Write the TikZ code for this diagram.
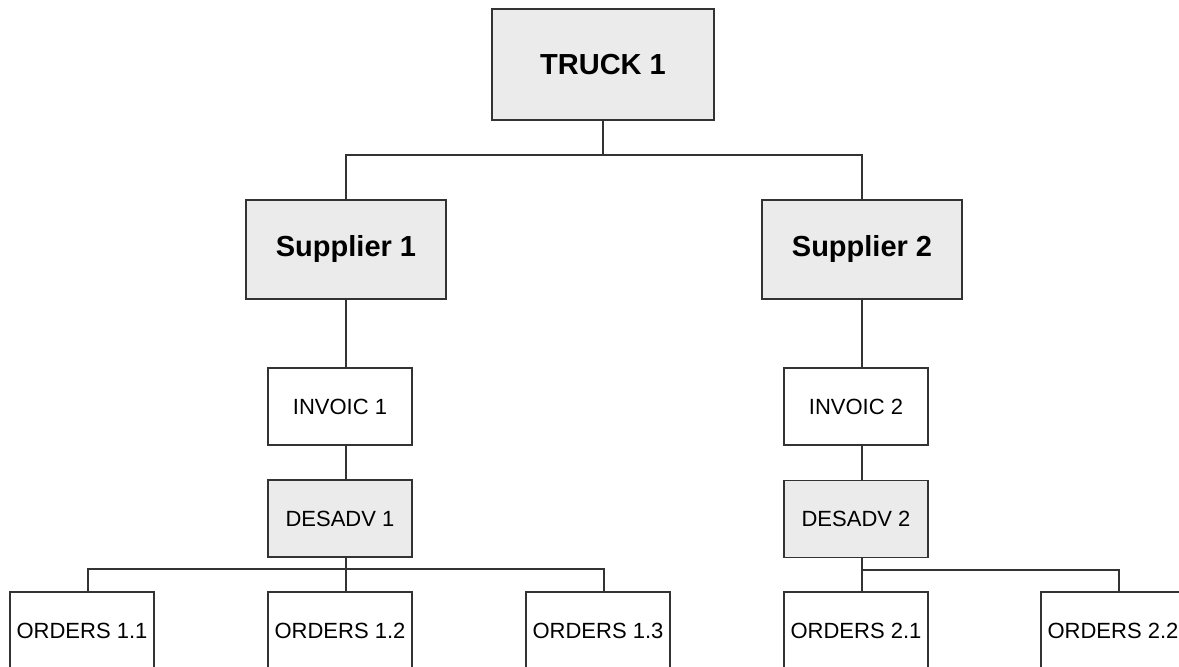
\documentclass[tikz,border=0pt]{standalone}
\usepackage{fontspec}
\setmainfont{Liberation Sans}
\begin{document}
\begin{tikzpicture}[x=0.75pt,y=-0.75pt,
  box/.style={draw=black!80, line width=1.1pt, fill=white, inner sep=0pt, align=center},
  shaded/.style={box, fill=black!8},
  big/.style={font=\fontsize{21.75}{26}\selectfont\bfseries},
  small/.style={font=\fontsize{16.5}{20}\selectfont},
  msg/.style={small, minimum width=108pt, minimum height=57.75pt},
  order/.style={box, small, minimum width=108pt, minimum height=57.75pt},
  link/.style={draw=black!80, line width=1.1pt}]
\useasboundingbox[fill=white] (0,0) rectangle (1179,667);
% top level
\node[shaded,big,minimum width=166.5pt,minimum height=83.25pt] (truck) at (603,64.5) {TRUCK 1};
\node[shaded,big,minimum width=150pt,minimum height=74.25pt] (sup1) at (346,249.5) {Supplier 1};
\node[shaded,big,minimum width=150pt,minimum height=74.25pt] (sup2) at (862,249.5) {Supplier 2};
% messages
\node[box,msg] (inv1) at (340,406.5) {INVOIC 1};
\node[shaded,msg] (des1) at (340,518.5) {DESADV 1};
\node[box,msg] (inv2) at (856,406.5) {INVOIC 2};
\node[shaded,msg] (des2) at (856,519) {DESADV 2};
% orders
\node[order] (o11) at (82,630.5) {ORDERS 1.1};
\node[order] (o12) at (340,630.5) {ORDERS 1.2};
\node[order] (o13) at (598,630.5) {ORDERS 1.3};
\node[order] (o21) at (856,630.5) {ORDERS 2.1};
\node[order] (o22) at (1113,630.5) {ORDERS 2.2};
% buses
\coordinate (tbus) at (603,155);
\coordinate (lbus) at (346,569);
\coordinate (rbus) at (862,570);
% connectors
\draw[link] (truck.south) -- (tbus);
\draw[link] (sup1.north) |- (tbus) -| (sup2.north);
\draw[link] (sup1.south) -- (sup1.south |- inv1.north);
\draw[link] (inv1.south -| lbus) -- (des1.north -| lbus);
\draw[link] (des1.south -| lbus) -- (lbus);
\draw[link] ([xshift=4.5pt]o11.north) |- (lbus);
\draw[link] ([xshift=4.5pt]o12.north) -- (lbus);
\draw[link] ([xshift=4.5pt]o13.north) |- (lbus);
\draw[link] (sup2.south) -- (sup2.south |- inv2.north);
\draw[link] (inv2.south -| rbus) -- (des2.north -| rbus);
\draw[link] (des2.south -| rbus) -- (rbus);
\draw[link] ([xshift=4.5pt]o21.north) -- (rbus);
\draw[link] ([xshift=4.5pt]o22.north) |- (rbus);
\end{tikzpicture}
\end{document}
